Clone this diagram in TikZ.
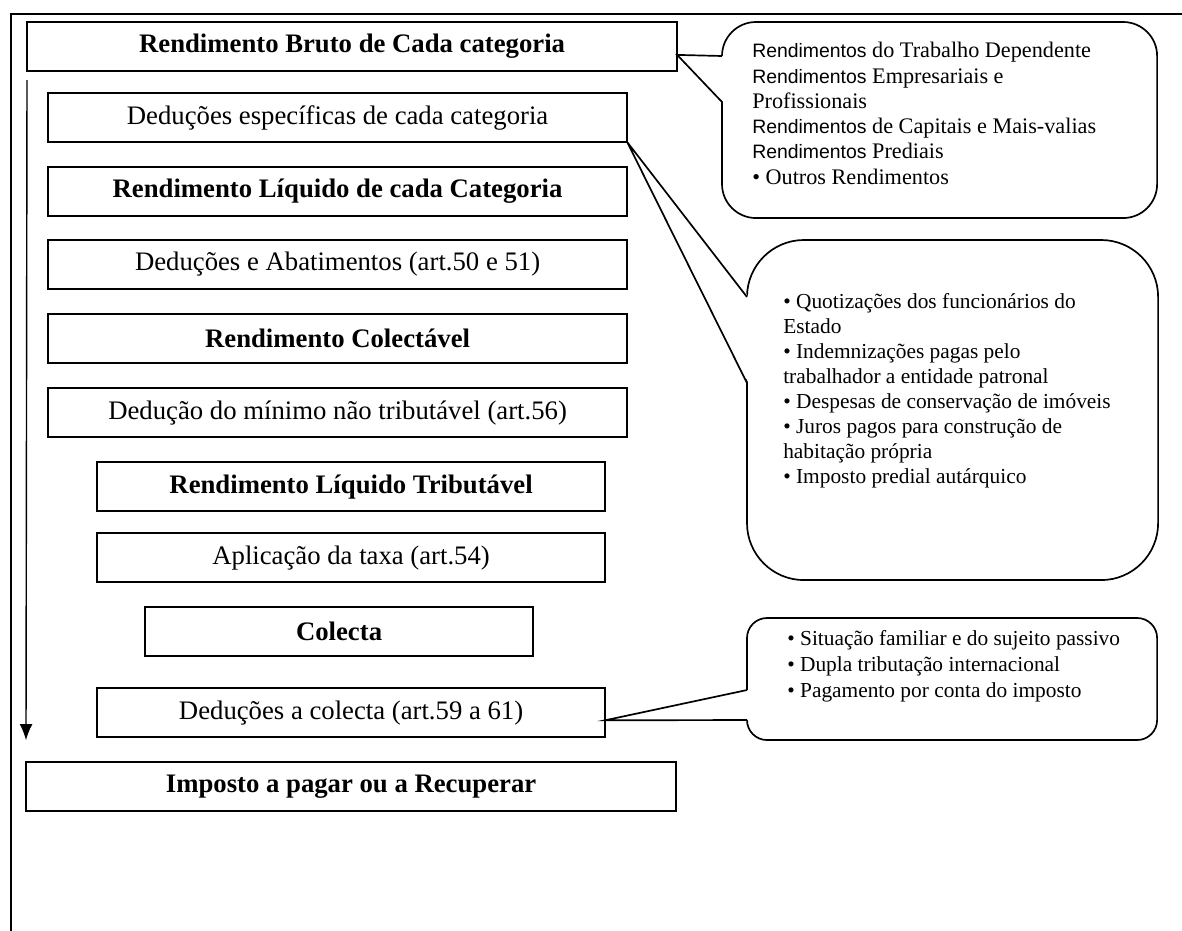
\documentclass[tikz,border=0pt]{standalone}
\usepackage{fontspec}
\setmainfont{Liberation Serif}
\newfontfamily\arialfont{Liberation Sans}
\usetikzlibrary{arrows.meta,positioning}

\newcommand{\sansword}[1]{{\arialfont\fontsize{13.8}{18}\selectfont #1}}

\begin{document}
\begin{tikzpicture}[
  x=0.025cm,y=-0.025cm,
  stepbox/.style={draw,line width=1.5pt,inner sep=0pt,outer sep=0pt,minimum height=1.225cm,anchor=north west,font=\fontsize{19}{22}\selectfont},
  keybox/.style={stepbox,font=\fontsize{19}{22}\selectfont\bfseries},
  callout/.style={draw,line width=1.2pt,inner sep=0pt,outer sep=0pt,anchor=north west},
  calltext/.style={align=left,inner sep=0pt,anchor=north west,font=\fontsize{15.2}{17.8}\selectfont},
  tail/.style={line width=1.2pt,line join=miter},
  frame/.style={line width=1.2pt},
  arr/.style={-{Latex[length=0.4cm,width=0.32cm]},line width=1pt}
]
\useasboundingbox (0,0) rectangle (1182,931);
\draw[frame] (11,931) -- (11,14) -- (1182,14);

% calculation steps
\node[keybox,minimum width=16.25cm] (bruto) at (27,22) {Rendimento Bruto de Cada categoria};
\node[stepbox,minimum width=14.475cm,below right=0.55cm and 0.525cm of bruto.south west] (dedesp) {Deduções específicas de cada categoria};
\node[keybox,minimum width=14.475cm,below right=0.625cm and 0cm of dedesp.south west] (liquido) {Rendimento Líquido de cada Categoria};
\node[stepbox,minimum width=14.475cm,below right=0.6cm and 0cm of liquido.south west] (dedabat) {Deduções e Abatimentos (art.50 e 51)};
\node[keybox,minimum width=14.475cm,below right=0.625cm and 0cm of dedabat.south west] (colectavel) {Rendimento Colectável};
\node[stepbox,minimum width=14.475cm,below right=0.625cm and 0cm of colectavel.south west] (minimo) {Dedução do mínimo não tributável (art.56)};
\node[keybox,minimum width=12.7cm,below right=0.625cm and 1.225cm of minimo.south west] (tributavel) {Rendimento Líquido Tributável};
\node[stepbox,minimum width=12.7cm,below right=0.55cm and 0cm of tributavel.south west] (taxa) {Aplicação da taxa (art.54)};
\node[keybox,minimum width=9.7cm,below right=0.625cm and 1.2cm of taxa.south west] (colecta) {Colecta};
\node[stepbox,minimum width=12.7cm,below right=0.8cm and -1.2cm of colecta.south west] (dedcol) {Deduções a colecta (art.59 a 61)};
\node[keybox,minimum width=16.25cm,below right=0.625cm and -1.775cm of dedcol.south west] (imposto) {Imposto a pagar ou a Recuperar};

% flow arrow
\coordinate (flowtop) at ([yshift=-0.225cm]bruto.south west);
\coordinate (flowend) at ([yshift=0.55cm]imposto.north west);
\draw[arr] (flowtop) -- (flowend);

% callouts
\node[callout,minimum width=10.875cm,minimum height=4.9cm,rounded corners=0.85cm] (rendlist) at (722,22) {};
\node[calltext,font=\fontsize{15.8}{18}\selectfont,below right=0.5cm and 0.75cm of rendlist.north west] (rendtext) {\sansword{Rendimentos} do Trabalho Dependente\\
\sansword{Rendimentos} Empresariais e\\
Profissionais\\
\sansword{Rendimentos} de Capitais e Mais-valias\\
\sansword{Rendimentos} Prediais\\
• Outros Rendimentos};

\node[callout,minimum width=10.275cm,minimum height=8.5cm,rounded corners=1.425cm] (despesas) at (747,240) {};
\node[calltext,below right=1.325cm and 0.9cm of despesas.north west] (desptext) {• Quotizações dos funcionários do\\
Estado\\
• Indemnizações pagas pelo\\
trabalhador a entidade patronal\\
• Despesas de conservação de imóveis\\
• Juros pagos para construção de\\
habitação própria\\
• Imposto predial autárquico};

\node[callout,minimum width=10.25cm,minimum height=3.05cm,rounded corners=0.5cm] (colectalist) at (747,618) {};
\node[calltext,font=\fontsize{15.2}{18.5}\selectfont,below right=0.3cm and 1cm of colectalist.north west] (colectatext) {• Situação familiar e do sujeito passivo\\
• Dupla tributação internacional\\
• Pagamento por conta do imposto};

% callout tails
\coordinate (tipa) at ([yshift=-0.21cm]bruto.east);
\coordinate (upa) at ([yshift=-0.85cm]rendlist.north west);
\coordinate (loa) at ([yshift=-2cm]rendlist.north west);
\fill[white] (tipa) -- ([xshift=1pt]upa) -- ([xshift=1pt]loa) -- cycle;
\draw[tail] (upa) -- (tipa) -- (loa);

\coordinate (tipb) at (dedesp.south east);
\coordinate (upb) at ([yshift=-1.425cm]despesas.north west);
\coordinate (lob) at ([yshift=-3.575cm]despesas.north west);
\fill[white] (tipb) -- ([xshift=1pt]upb) -- ([xshift=1pt]lob) -- cycle;
\draw[tail] (upb) -- (tipb) -- (lob);

\coordinate (tipc) at ([yshift=-0.19cm]dedcol.east);
\coordinate (upc) at ([yshift=-1.8cm]colectalist.north west);
\coordinate (loc) at ([yshift=0.5cm]colectalist.south west);
\fill[white] (tipc) -- ([xshift=1pt]upc) -- ([xshift=1pt]loc) -- cycle;
\draw[tail] (upc) -- (tipc) -- (loc);
\end{tikzpicture}
\end{document}
